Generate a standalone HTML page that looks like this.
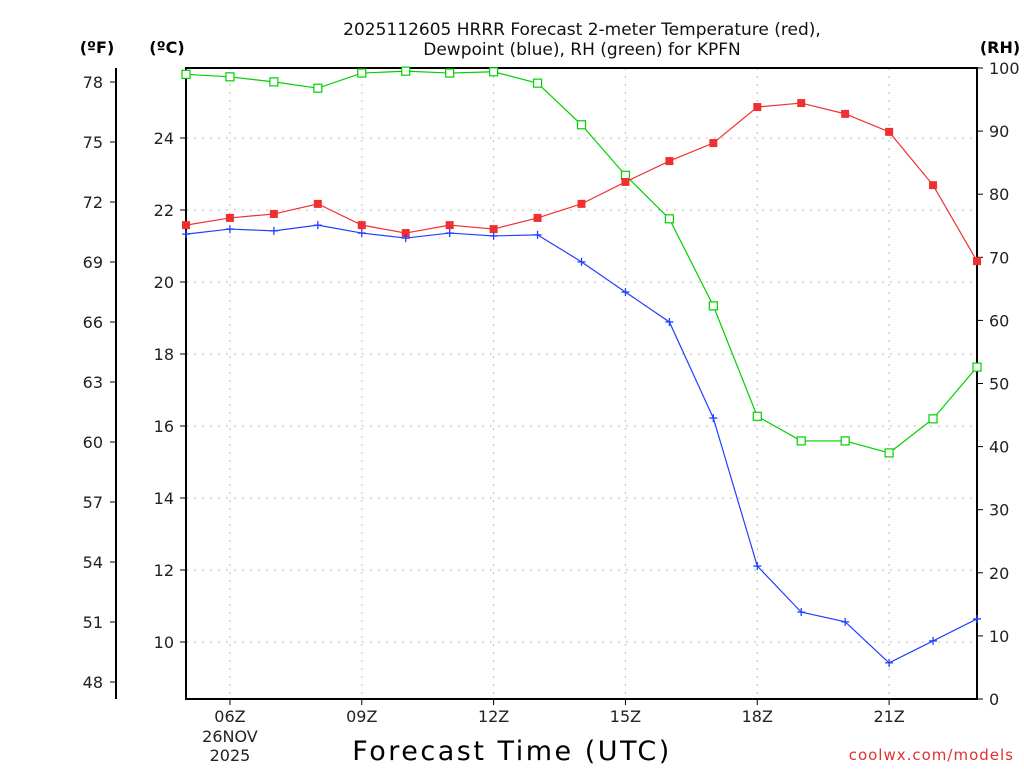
<!DOCTYPE html>
<html><head><meta charset="utf-8"><style>
body{margin:0;background:#fff;}
svg text{font-family:"DejaVu Sans","Liberation Sans",sans-serif;}
</style></head><body>
<svg id="c" width="1024" height="768" xmlns="http://www.w3.org/2000/svg"></svg>
<script>
const hours=[5,6,7,8,9,10,11,12,13,14,15,16,17,18,19,20,21,22,23];
const tempC=[21.58,21.78,21.89,22.17,21.58,21.36,21.58,21.47,21.78,22.17,22.78,23.36,23.86,24.86,24.97,24.67,24.17,22.69,20.58];
const dewC=[21.33,21.47,21.42,21.58,21.36,21.22,21.36,21.28,21.31,20.56,19.72,18.89,16.22,12.11,10.83,10.56,9.42,10.03,10.64];
const rh=[99.0,98.6,97.8,96.8,99.2,99.5,99.2,99.4,97.6,91.0,83.0,76.1,62.3,44.8,40.9,40.9,39.0,44.4,52.6];
const cTicks=[10,12,14,16,18,20,22,24];
const fTicks=[48,51,54,57,60,63,66,69,72,75,78];
const rhTicks=[0,10,20,30,40,50,60,70,80,90,100];
const xTicks=[6,9,12,15,18,21];
const xLabels=["06Z","09Z","12Z","15Z","18Z","21Z"];

const L=186,R=977,T=68,B=699;
const X=h=>L+(h-5)*(R-L)/18;
const YC=c=>138+(24-c)*36;
const YF=f=>YC((f-32)*5/9);
const YR=r=>B-r*(B-T)/100;
const svg=document.getElementById('c');
const NS='http://www.w3.org/2000/svg';
function el(tag,attrs,name,txt){const e=document.createElementNS(NS,tag);for(const k in attrs)e.setAttribute(k,attrs[k]);


if(txt!==undefined)e.textContent=txt;svg.appendChild(e);return e;}

cTicks.forEach(c=>{el('line',{x1:L,x2:R,y1:YC(c),y2:YC(c),stroke:'#bbb','stroke-dasharray':'2,6'},'h-gridline');});
xTicks.forEach(h=>{el('line',{x1:X(h),x2:X(h),y1:T,y2:B,stroke:'#bbb','stroke-dasharray':'2,6'},'v-gridline');});
el('rect',{x:L,y:T,width:R-L,height:B-T,fill:'none',stroke:'#000','stroke-width':2},'plot-frame');
el('line',{x1:116,x2:116,y1:T,y2:B,stroke:'#000','stroke-width':2},'fahrenheit-axis-line');
cTicks.forEach(c=>{el('line',{x1:L-6,x2:L,y1:YC(c),y2:YC(c),stroke:'#000'},'c-tick');
el('text',{x:L-12,y:YC(c)+6,'text-anchor':'end','font-size':16,fill:'#222'},'c-tick-label',String(c));});
fTicks.forEach(f=>{el('line',{x1:110,x2:116,y1:YF(f),y2:YF(f),stroke:'#000'},'f-tick');
el('text',{x:103,y:YF(f)+6,'text-anchor':'end','font-size':16,fill:'#222'},'f-tick-label',String(f));});
rhTicks.forEach(r=>{el('line',{x1:R,x2:R+6,y1:YR(r),y2:YR(r),stroke:'#000'},'rh-tick');
el('text',{x:R+12,y:YR(r)+6,'text-anchor':'start','font-size':16,fill:'#222'},'rh-tick-label',String(r));});
xTicks.forEach((h,i)=>{el('line',{x1:X(h),x2:X(h),y1:B,y2:B+6,stroke:'#000'},'x-tick');
el('text',{x:X(h),y:B+23,'text-anchor':'middle','font-size':16,fill:'#222'},'x-tick-label',xLabels[i]);});
el('text',{x:X(6),y:B+43,'text-anchor':'middle','font-size':16,fill:'#222'},'x-date-label','26NOV');
el('text',{x:X(6),y:B+62,'text-anchor':'middle','font-size':16,fill:'#222'},'x-year-label','2025');
el('text',{x:582,y:35,'text-anchor':'middle','font-size':17,fill:'#111'},'chart-title-line1','2025112605 HRRR Forecast 2-meter Temperature (red),');
el('text',{x:582,y:55,'text-anchor':'middle','font-size':17,fill:'#111'},'chart-title-line2','Dewpoint (blue), RH (green) for KPFN');
el('text',{x:97,y:53,'text-anchor':'middle','font-size':16,'font-weight':'bold'},'fahrenheit-unit-label','(ºF)');
el('text',{x:167,y:53,'text-anchor':'middle','font-size':16,'font-weight':'bold'},'celsius-unit-label','(ºC)');
el('text',{x:1000,y:53,'text-anchor':'middle','font-size':16,'font-weight':'bold'},'rh-unit-label','(RH)');
el('text',{x:512,y:760,'text-anchor':'middle','font-size':27,fill:'#000','letter-spacing':'2.5'},'x-axis-title','Forecast Time (UTC)');
el('text',{x:1014,y:760,'text-anchor':'end','font-size':15,fill:'#e03030','letter-spacing':'1'},'source-credit','coolwx.com/models');

function line(vals,yf,color,name){el('polyline',{points:vals.map((v,i)=>X(hours[i])+','+yf(v)).join(' '),fill:'none',stroke:color,'stroke-width':1.2},name);}
line(rh,YR,'#00d000','rh-line');
line(tempC,YC,'#f03030','temperature-line');
line(dewC,YC,'#2040ff','dewpoint-line');
rh.forEach((v,i)=>{el('rect',{x:X(hours[i])-4,y:YR(v)-4,width:8,height:8,fill:'#fff',stroke:'#00d000','stroke-width':1.2},'rh-marker');});
tempC.forEach((v,i)=>{el('rect',{x:X(hours[i])-4,y:YC(v)-4,width:8,height:8,fill:'#f03030'},'temperature-marker');});
dewC.forEach((v,i)=>{const x=X(hours[i]),y=YC(v);
el('path',{d:`M${x-4},${y}H${x+4}M${x},${y-4}V${y+4}`,stroke:'#2040ff','stroke-width':1.3},'dewpoint-marker');});
</script>
</body></html>
